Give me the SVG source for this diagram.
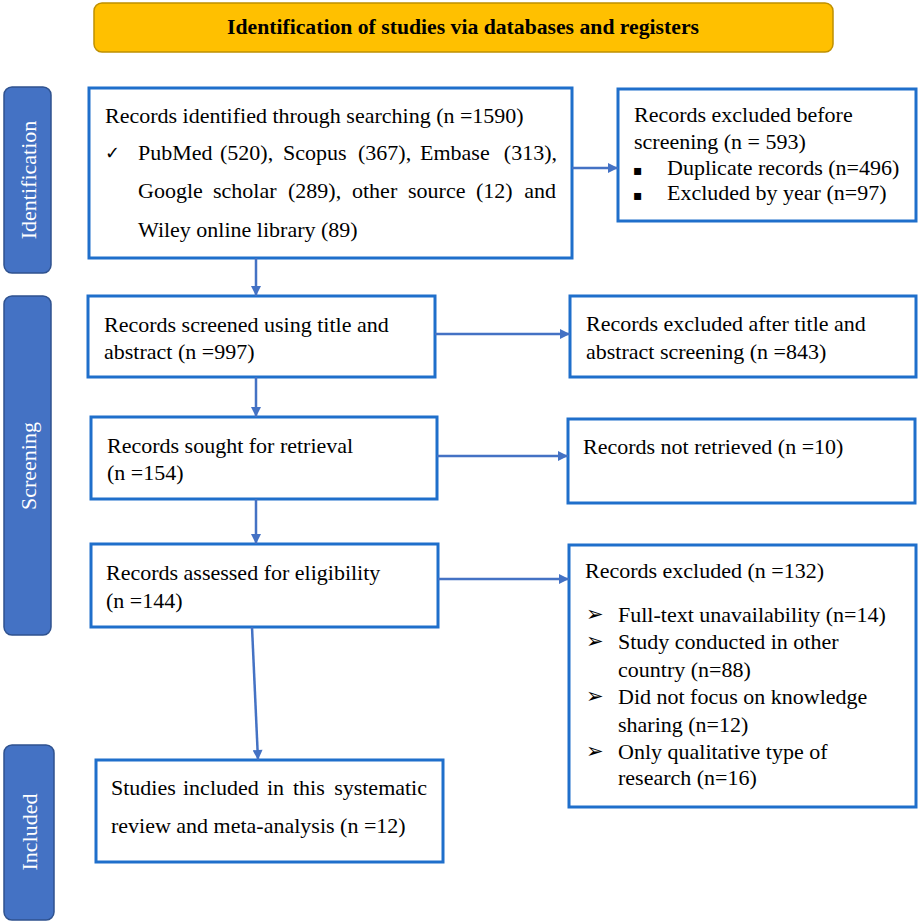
<svg xmlns="http://www.w3.org/2000/svg" width="920" height="924" viewBox="0 0 920 924">
<defs>
<style>
.box{fill:#fff;stroke:#1F6FCB;stroke-width:3}
.side{fill:#4472C4;stroke:#2F528F;stroke-width:1.5}
.t{font-family:"Liberation Serif","Times New Roman",serif;font-size:22px;fill:#000}
.st{font-family:"Liberation Serif","Times New Roman",serif;font-size:22px;fill:#fff}
.sym{font-family:"DejaVu Sans",sans-serif;fill:#000}
.conn{stroke:#4472C4;stroke-width:2.5;fill:none;marker-end:url(#ah)}
</style>
<marker id="ah" viewBox="0 0 10 10" refX="10" refY="5" markerWidth="4.4" markerHeight="4" orient="auto" markerUnits="strokeWidth">
<path d="M0,0 L10,5 L0,10 z" fill="#4472C4"/>
</marker>
</defs>
<rect width="920" height="924" fill="#fff"/>

<g id="title">
<rect x="94" y="3" width="739" height="49" rx="8" fill="#FFC000" stroke="#BF9000" stroke-width="1.5"/>
<text x="463" y="34" text-anchor="middle" font-family="Liberation Serif,'Times New Roman',serif" font-size="21.7" font-weight="bold" fill="#000">Identification of studies via databases and registers</text>
</g>

<g id="side-identification">
<rect class="side" x="4" y="87" width="47" height="186" rx="8"/>
<text class="st" transform="translate(28,180) rotate(-90)" text-anchor="middle" dominant-baseline="central">Identification</text>
</g>
<g id="side-screening">
<rect class="side" x="4" y="296" width="47" height="339" rx="8"/>
<text class="st" transform="translate(28,466) rotate(-90)" text-anchor="middle" dominant-baseline="central">Screening</text>
</g>
<g id="side-included">
<rect class="side" x="4" y="745" width="50" height="175" rx="8"/>
<text class="st" transform="translate(29,832) rotate(-90)" text-anchor="middle" dominant-baseline="central">Included</text>
</g>

<g id="identified">
<rect class="box" x="89" y="88" width="483" height="170"/>
<text class="t" x="105" y="123" font-size="21.3">Records identified through searching (n =1590)</text>
<text class="sym" x="105" y="159" font-size="18">✓</text>
<text class="t" y="160"><tspan x="138">PubMed</tspan><tspan x="220">(520),</tspan><tspan x="283">Scopus</tspan><tspan x="358">(367),</tspan><tspan x="420">Embase</tspan><tspan x="557" text-anchor="end">(313),</tspan></text>
<text class="t" y="198"><tspan x="138">Google</tspan><tspan x="213">scholar</tspan><tspan x="288">(289),</tspan><tspan x="352">other</tspan><tspan x="408">source</tspan><tspan x="476">(12)</tspan><tspan x="556" text-anchor="end">and</tspan></text>
<text class="t" x="138" y="237">Wiley online library (89)</text>
</g>

<g id="excluded-before">
<rect class="box" x="618" y="89" width="298" height="132"/>
<text class="t" x="634" y="122">Records excluded before</text>
<text class="t" x="634" y="149">screening (n = 593)</text>
<text class="sym" x="633" y="175" font-size="14">▪</text>
<text class="t" x="667" y="175">Duplicate records (n=496)</text>
<text class="sym" x="633" y="200" font-size="14">▪</text>
<text class="t" x="667" y="200">Excluded by year (n=97)</text>
</g>

<g id="screened">
<rect class="box" x="88" y="296" width="347" height="81"/>
<text class="t" x="104" y="332">Records screened using title and</text>
<text class="t" x="104" y="359">abstract (n =997)</text>
</g>

<g id="excluded-after">
<rect class="box" x="570" y="296" width="346" height="81"/>
<text class="t" x="586" y="331">Records excluded after title and</text>
<text class="t" x="586" y="359">abstract screening (n =843)</text>
</g>

<g id="sought">
<rect class="box" x="91" y="417" width="346" height="82"/>
<text class="t" x="107" y="453">Records sought for retrieval</text>
<text class="t" x="107" y="480">(n =154)</text>
</g>

<g id="not-retrieved">
<rect class="box" x="568" y="419" width="347" height="84"/>
<text class="t" x="583" y="454">Records not retrieved (n =10)</text>
</g>

<g id="assessed">
<rect class="box" x="91" y="544" width="347" height="83"/>
<text class="t" x="106" y="580">Records assessed for eligibility</text>
<text class="t" x="106" y="608">(n =144)</text>
</g>

<g id="excluded">
<rect class="box" x="569" y="545" width="347" height="262"/>
<text class="t" x="585" y="578">Records excluded (n =132)</text>
<text class="sym" x="586" y="621" font-size="21">➢</text>
<text class="t" x="618" y="622">Full-text unavailability (n=14)</text>
<text class="sym" x="586" y="648" font-size="21">➢</text>
<text class="t" x="618" y="649">Study conducted in other</text>
<text class="t" x="618" y="677">country (n=88)</text>
<text class="sym" x="586" y="703" font-size="21">➢</text>
<text class="t" x="618" y="704">Did not focus on knowledge</text>
<text class="t" x="618" y="732">sharing (n=12)</text>
<text class="sym" x="586" y="758" font-size="21">➢</text>
<text class="t" x="618" y="759">Only qualitative type of</text>
<text class="t" x="618" y="785">research (n=16)</text>
</g>

<g id="included">
<rect class="box" x="96" y="760" width="347" height="102"/>
<text class="t" y="795"><tspan x="111">Studies</tspan><tspan x="183">included</tspan><tspan x="267">in</tspan><tspan x="293">this</tspan><tspan x="427" text-anchor="end">systematic</tspan></text>
<text class="t" x="111" y="833">review and meta-analysis (n =12)</text>
</g>

<g id="connectors">
<path class="conn" d="M256,258 L256,296"/>
<path class="conn" d="M572,168 L618,168"/>
<path class="conn" d="M256,377 L256,417"/>
<path class="conn" d="M435,334 L570,334"/>
<path class="conn" d="M256,499 L256,544"/>
<path class="conn" d="M437,456 L568,456"/>
<path class="conn" d="M438,579 L569,579"/>
<path class="conn" d="M252,627 L258,760"/>
</g>
</svg>
